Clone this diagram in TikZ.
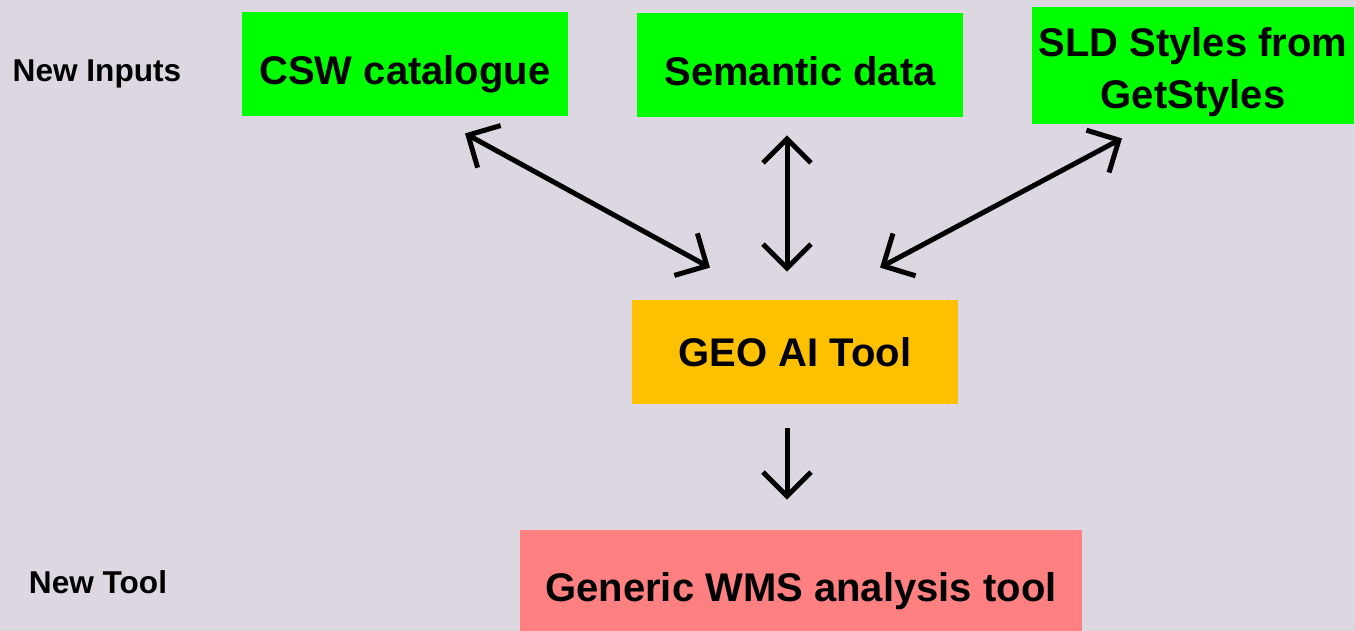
\documentclass[tikz,border=0pt]{standalone}
\usepackage{fontspec}
\setmainfont{Liberation Sans}
\usetikzlibrary{positioning,arrows.meta,calc}

\definecolor{bgcol}{RGB}{221,215,225}
\definecolor{inputgreen}{RGB}{0,255,0}
\definecolor{toolorange}{RGB}{255,192,0}
\definecolor{outpink}{RGB}{255,128,128}

\tikzset{
  boxfont/.style={font=\fontsize{20}{26}\selectfont\bfseries},
  inbox/.style={boxfont,fill=inputgreen,minimum width=163pt,minimum height=52pt,align=center},
  onerow/.style={text height=21pt,text depth=0pt},
  link/.style={line width=2.5pt,{Straight Barb[length=12pt,width=24pt]}-{Straight Barb[length=12pt,width=24pt]}},
  onelink/.style={line width=2.5pt,-{Straight Barb[length=12pt,width=24pt]}},
  rowlabel/.style={font=\fontsize{15.8}{18}\selectfont\bfseries,text depth=0pt}
}

\begin{document}
\begin{tikzpicture}[x=0.5pt,y=-0.5pt]
\fill[bgcol] (0,0) rectangle (1355,631);
\useasboundingbox (0,0) rectangle (1355,631);

% row labels
\node[rowlabel] (inputs) at (97,71) {New Inputs};
\node[rowlabel] (newtool) at (98,582) {New Tool};

% input boxes
\node[inbox,onerow] (csw) at (405,64) {CSW catalogue};
\node[inbox,onerow] (sem) at (800,65) {Semantic data};
\node[inbox,minimum width=161pt,minimum height=58.5pt,text height=43.5pt,text depth=0pt] (sld) at (1193,65.5) {SLD Styles from\\GetStyles};

\node[boxfont,fill=toolorange,minimum width=163pt,minimum height=52pt] (geo) at (795,352) {GEO AI Tool};
\node[boxfont,fill=outpink,minimum width=281pt,minimum height=57pt,text depth=0pt] (wms) at (801,587) {Generic WMS analysis tool};

% links into the tool
\draw[link] ($(csw.south)+(60,17)$) -- ($(geo.north)+(-85,-32)$);
\draw[link] ($(sem.south)+(-13,18)$) -- ($(geo.north)+(-8,-28)$);
\draw[link] ($(sld.south)+(-71,14)$) -- ($(geo.north)+(85,-32)$);
\draw[onelink] ($(geo.south)+(-8,24)$) -- ($(wms.north)+(-14,-30)$);
\end{tikzpicture}
\end{document}
